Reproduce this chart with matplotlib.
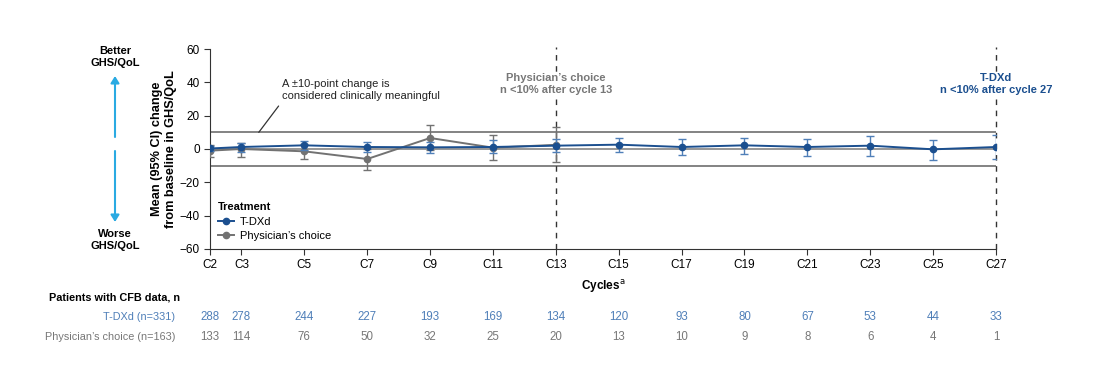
#!/usr/bin/env python3
"""GHS/QoL mean change from baseline by cycle, T-DXd vs physician's choice."""
import matplotlib
matplotlib.use("Agg")
import matplotlib.pyplot as plt
from matplotlib import transforms
from matplotlib.lines import Line2D

plt.rcParams.update({
    "font.family": ["Liberation Sans", "DejaVu Sans"],
    "font.size": 8,
})

C_TDXD = "#1b4f8f"
C_TDXD_ERR = "#4f7fb8"
C_PC = "#727272"
C_ARROW = "#2aaae2"
C_REF = "#7a7a7a"

# --- data -------------------------------------------------------------------
cycles = [2, 3, 5, 7, 9, 11, 13, 15, 17, 19, 21, 23, 25, 27]
tick_labels = [f"C{c}" for c in cycles]

tdxd_mean = [0.3, 1.2, 2.2, 1.2, 1.0, 1.2, 2.0, 2.6, 1.2, 2.2, 1.2, 2.0, -0.2, 1.2]
tdxd_lo = [-1.5, -1.8, -0.6, -1.8, -2.6, -2.4, -1.8, -2.0, -3.4, -2.8, -4.0, -4.2, -6.6, -6.0]
tdxd_hi = [2.0, 3.8, 5.0, 4.4, 4.2, 5.2, 5.8, 6.6, 6.0, 6.8, 6.2, 7.6, 5.4, 8.2]

pc_cycles = [2, 3, 5, 7, 9, 11, 13]
pc_mean = [-1.0, 0.0, -1.4, -6.0, 6.6, 0.8, 2.5]
pc_lo = [-4.6, -5.0, -6.0, -12.4, -0.4, -6.8, -7.8]
pc_hi = [2.5, 3.8, 3.0, 0.2, 14.2, 8.2, 13.2]

n_tdxd = [288, 278, 244, 227, 193, 169, 134, 120, 93, 80, 67, 53, 44, 33]
n_pc = [133, 114, 76, 50, 32, 25, 20, 13, 10, 9, 8, 6, 4, 1]

# --- figure -----------------------------------------------------------------
fig = plt.figure(figsize=(10.98, 3.92), dpi=100)
ax = fig.add_axes([0.1913, 0.3648, 0.7158, 0.5102])

ax.axhline(10, color=C_REF, lw=1.3)
ax.axhline(-10, color=C_REF, lw=1.3)
ax.axhline(0, color=C_REF, lw=1.1)
for c in (13, 27):
    ax.axvline(c, color="#333333", lw=1.0, ls=(0, (4, 4)), ymax=1.01, clip_on=False)

ax.errorbar(pc_cycles, pc_mean,
            yerr=[[m - lo for m, lo in zip(pc_mean, pc_lo)],
                  [hi - m for m, hi in zip(pc_mean, pc_hi)]],
            color=C_PC, ecolor=C_PC, elinewidth=1.0, capsize=3, lw=1.4,
            marker="o", ms=4.5, zorder=3)
ax.errorbar(cycles, tdxd_mean,
            yerr=[[m - lo for m, lo in zip(tdxd_mean, tdxd_lo)],
                  [hi - m for m, hi in zip(tdxd_mean, tdxd_hi)]],
            color=C_TDXD, ecolor=C_TDXD_ERR, elinewidth=1.0, capsize=3, lw=1.4,
            marker="o", ms=4.5, zorder=4)

ax.set_xlim(2, 27)
ax.set_ylim(-60, 60)
ax.set_yticks(range(-60, 61, 20))
ax.set_yticklabels([f"{v}" if v >= 0 else f"\u2212{-v}" for v in range(-60, 61, 20)])
ax.set_xticks(cycles)
ax.set_xticklabels(tick_labels)
ax.tick_params(direction="out", length=4, color="#333333", labelsize=8.5)
ax.spines[["top", "right"]].set_visible(False)
ax.spines[["left", "bottom"]].set_color("#333333")
ax.set_xlabel("Cycles$^{\\mathrm{a}}$", fontweight="bold", fontsize=8.5, labelpad=5)
ax.set_ylabel("Mean (95% CI) change\nfrom baseline in GHS/QoL", fontweight="bold",
              fontsize=9.2, labelpad=2)

# clinically meaningful annotation
ax.annotate("A \u00b110-point change is\nconsidered clinically meaningful",
            xy=(3.55, 10), xytext=(4.3, 35.5), ha="left", va="center",
            fontsize=8, color="#222222", linespacing=1.3,
            arrowprops=dict(arrowstyle="-", color="#333333", lw=0.9,
                            shrinkA=2, shrinkB=0, relpos=(0, 0)))

ax.text(13, 38.8, "Physician\u2019s choice\nn <10% after cycle 13", ha="center",
        va="center", fontsize=8, fontweight="bold", color="#777777",
        linespacing=1.25, bbox=dict(fc="white", ec="none", pad=1))
ax.text(27, 38.8, "T-DXd\nn <10% after cycle 27", ha="center", va="center",
        fontsize=8, fontweight="bold", color=C_TDXD, linespacing=1.25,
        bbox=dict(fc="white", ec="none", pad=1), clip_on=False)

handles = [Line2D([], [], color=C_TDXD, marker="o", ms=4.5, lw=1.4),
           Line2D([], [], color=C_PC, marker="o", ms=4.5, lw=1.4)]
leg = ax.legend(handles, ["T-DXd", "Physician\u2019s choice"], title="Treatment",
                loc="lower left", bbox_to_anchor=(0.0, 0.0), frameon=False,
                fontsize=8, handlelength=1.5, handletextpad=0.5,
                labelspacing=0.4, borderaxespad=0.3, alignment="left")
leg.get_title().set_fontweight("bold")
leg.get_title().set_fontsize(8)

# better / worse arrows
fig.text(115 / 1098, 1 - 57 / 392, "Better\nGHS/QoL", ha="center", va="center",
         fontsize=8, fontweight="bold", linespacing=1.2)
fig.text(115 / 1098, 1 - 240 / 392, "Worse\nGHS/QoL", ha="center", va="center",
         fontsize=8, fontweight="bold", linespacing=1.2)
fig.add_artist(matplotlib.patches.FancyArrowPatch(
    (115 / 1098, 1 - 137 / 392), (115 / 1098, 1 - 76 / 392),
    transform=fig.transFigure, arrowstyle="-|>,head_length=4,head_width=2.5",
    color=C_ARROW, lw=1.5, shrinkA=0, shrinkB=0))
fig.add_artist(matplotlib.patches.FancyArrowPatch(
    (115 / 1098, 1 - 151 / 392), (115 / 1098, 1 - 222 / 392),
    transform=fig.transFigure, arrowstyle="-|>,head_length=4,head_width=2.5",
    color=C_ARROW, lw=1.5, shrinkA=0, shrinkB=0))

# patients-at-risk table
tr = transforms.blended_transform_factory(ax.transData, fig.transFigure)
fig.text(49 / 1098, 1 - 298 / 392, "Patients with CFB data, n", ha="left",
         va="center", fontsize=7.8, fontweight="bold")
fig.text(175 / 1098, 1 - 317 / 392, "T-DXd (n=331)", ha="right", va="center",
         fontsize=7.8, color=C_TDXD_ERR)
fig.text(175 / 1098, 1 - 337 / 392, "Physician\u2019s choice (n=163)", ha="right",
         va="center", fontsize=7.8, color="#777777")
for c, a, b in zip(cycles, n_tdxd, n_pc):
    ax.text(c, 1 - 317 / 392, f"{a}", transform=tr, ha="center", va="center",
            fontsize=8.3, color=C_TDXD_ERR)
    ax.text(c, 1 - 337 / 392, f"{b}", transform=tr, ha="center", va="center",
            fontsize=8.3, color="#777777")

fig.savefig("out.png", dpi=100)
